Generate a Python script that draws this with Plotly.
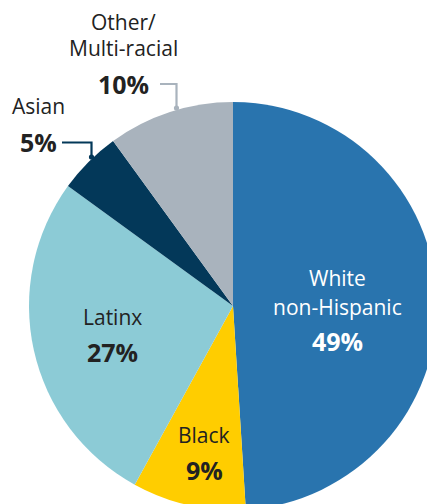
import plotly.graph_objects as go

# ---- data ----
groups = ["White non-Hispanic", "Black", "Latinx", "Asian", "Other/Multi-racial"]
shares = [49, 9, 27, 5, 10]
colors = ["#2974ae", "#ffcd00", "#8ccbd6", "#033859", "#a9b3bd"]

# ---- geometry (pixels) ----
W, H = 440, 512
ML, MT, SIDE = 29, 102, 408
MR = W - ML - SIDE
MB = H - MT - SIDE


def px(x):
    return (x - ML) / SIDE


def py(y):
    return 1 - (y - MT) / SIDE


fig = go.Figure(go.Pie(
    labels=groups,
    values=shares,
    sort=False,
    direction="clockwise",
    rotation=0,
    marker=dict(colors=colors, line=dict(width=0)),
    textinfo="none",
    hoverinfo="none",
    showlegend=False,
))

FONT = "Open Sans, Noto Sans, sans-serif"
DARK = "#222222"

# label layout: (group index, name lines, x, [y per name line], y of pct, colour)
label_layout = [
    (0, ["White", "non-Hispanic"], 337, [278, 307], 341, "#ffffff"),
    (1, ["Black"], 204, [435], 470, DARK),
    (2, ["Latinx"], 112, [317], 352, DARK),
    (3, ["Asian"], 38, [106], 142, DARK),
    (4, ["Other/", "Multi-racial"], 123, [22, 48], 84, DARK),
]

ann = []
for idx, lines, x, ys, ypct, col in label_layout:
    for t, y in zip(lines, ys):
        ann.append(dict(text=t, x=px(x), y=py(y), xref="paper", yref="paper",
                        xanchor="center", yanchor="middle", showarrow=False,
                        font=dict(family=FONT, size=21, color=col)))
    ann.append(dict(text="<b>%d%%</b>" % shares[idx], x=px(x), y=py(ypct),
                    xref="paper", yref="paper", xanchor="center", yanchor="middle",
                    showarrow=False, font=dict(family=FONT, size=25, color=col)))

# leader lines (pixel paths) for outside labels
leaders = [
    (3, [(62, 142.5), (91.5, 142.5), (91.5, 157)]),
    (4, [(160, 84), (176.5, 84), (176.5, 108)]),
]
shapes = []
for idx, pts in leaders:
    path = "M " + " L ".join("%f,%f" % (px(a), py(b)) for a, b in pts)
    shapes.append(dict(type="path", path=path, xref="paper", yref="paper",
                       line=dict(color=colors[idx], width=2.2)))
    ex, ey = pts[-1]
    r = 2.6
    shapes.append(dict(type="circle", xref="paper", yref="paper",
                       x0=px(ex - r), x1=px(ex + r), y0=py(ey - r), y1=py(ey + r),
                       fillcolor=colors[idx], line=dict(width=0)))

fig.update_layout(
    width=W, height=H,
    margin=dict(l=ML, r=MR, t=MT, b=MB, pad=0),
    paper_bgcolor="white", plot_bgcolor="white",
    annotations=ann, shapes=shapes,
    font=dict(family=FONT),
)

fig.write_html(
    "out.html",
    post_script="document.body.style.margin='0';document.body.style.overflow='hidden';"
                "document.documentElement.style.overflow='hidden';",
    config={"displayModeBar": False},
)
